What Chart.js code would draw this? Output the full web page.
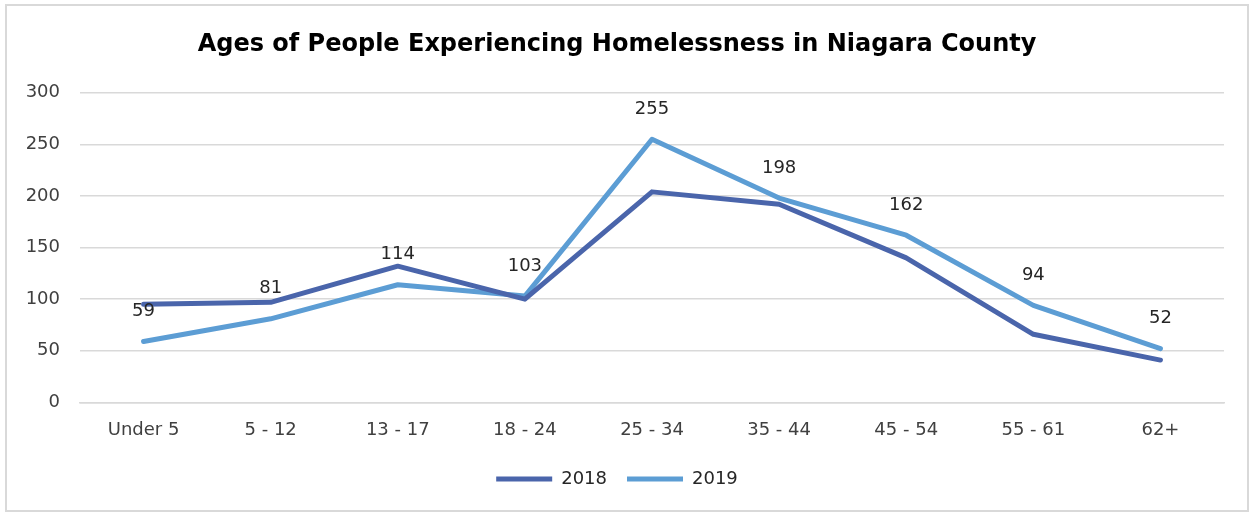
<!DOCTYPE html>
<html>
<head>
<meta charset="utf-8">
<script src="https://cdn.jsdelivr.net/npm/chart.js@4.4.1/dist/chart.umd.min.js"></script>
<style>
  html, body { margin: 0; padding: 0; background: #fff; }
  #wrap { position: absolute; left: 0; top: 0; width: 1252px; height: 512px; }
  #frame { position: absolute; left: 5px; top: 4px; width: 1240px; height: 504px; border: 2px solid #d9d9d9; box-sizing: content-box; pointer-events: none; }
  canvas { position: absolute; left: 0; top: 0; }
</style>
</head>
<body>
<div id="wrap">
  <canvas id="c" width="1252" height="512"></canvas>
  <div id="frame"></div>
</div>
<script>
const titleText = "Ages of People Experiencing Homelessness in Niagara County";
const categories = ["Under 5", "5 - 12", "13 - 17", "18 - 24", "25 - 34", "35 - 44", "45 - 54", "55 - 61", "62+"];
const values2018 = [95, 97, 132, 100, 204, 192, 140, 66, 41];
const values2019 = [59, 81, 114, 103, 255, 198, 162, 94, 52];
const seriesNames = ["2018", "2019"];
const yTicks = [0, 50, 100, 150, 200, 250, 300];

const FONT = "'DejaVu Sans', sans-serif";
const c2018 = "#4a65ab";
const c2019 = "#5c9dd4";

const dataLabels = {
  id: 'dataLabels',
  afterDatasetsDraw(chart) {
    const ctx = chart.ctx;
    const meta = chart.getDatasetMeta(1);
    ctx.save();
    ctx.font = "18px " + FONT;
    ctx.fillStyle = "#262626";
    ctx.textAlign = "center";
    ctx.textBaseline = "middle";
    meta.data.forEach((pt, i) => {
      ctx.fillText(String(chart.data.datasets[1].data[i]), pt.x, pt.y - 30);
    });
    ctx.restore();
  }
};

new Chart(document.getElementById('c'), {
  type: 'line',
  data: {
    labels: categories,
    datasets: [
      { label: seriesNames[0], data: values2018, borderColor: c2018, backgroundColor: c2018, borderWidth: 5, pointRadius: 0, tension: 0, borderJoinStyle: 'round', borderCapStyle: 'round' },
      { label: seriesNames[1], data: values2019, borderColor: c2019, backgroundColor: c2019, borderWidth: 5, pointRadius: 0, tension: 0, borderJoinStyle: 'round', borderCapStyle: 'round' }
    ]
  },
  options: {
    responsive: false,
    animation: false,
    devicePixelRatio: 1,
    layout: { padding: { left: 10, right: 28, top: 0, bottom: 14 } },
    plugins: {
      title: {
        display: true,
        text: titleText,
        color: "#000",
        font: { family: FONT, size: 24, weight: 'bold' },
        padding: { top: 30, bottom: 34 }
      },
      legend: {
        position: 'bottom',
        labels: {
          color: "#262626",
          font: { family: FONT, size: 18 },
          boxWidth: 56,
          boxHeight: 5,
          padding: 20,
          generateLabels(chart) {
            return chart.data.datasets.map((ds, i) => ({
              text: ds.label,
              fillStyle: ds.borderColor,
              strokeStyle: ds.borderColor,
              lineWidth: 0,
              fontColor: "#262626",
              datasetIndex: i,
              hidden: false
            }));
          }
        }
      },
      tooltip: { enabled: false }
    },
    scales: {
      x: {
        offset: true,
        grid: { display: false },
        border: { display: true, color: "#d9d9d9", width: 1.5 },
        ticks: { color: "#404040", font: { family: FONT, size: 18 }, padding: 9, maxRotation: 0 }
      },
      y: {
        min: 0, max: 300,
        afterBuildTicks(scale) { scale.ticks = yTicks.map(v => ({ value: v })); },
        afterFit(scale) { scale.width = 70; },
        grid: { color: "#d9d9d9", lineWidth: 1.5, drawTicks: false },
        border: { display: false },
        ticks: { color: "#404040", font: { family: FONT, size: 18 }, padding: 20 }
      }
    }
  },
  plugins: [dataLabels]
});
</script>
</body>
</html>
